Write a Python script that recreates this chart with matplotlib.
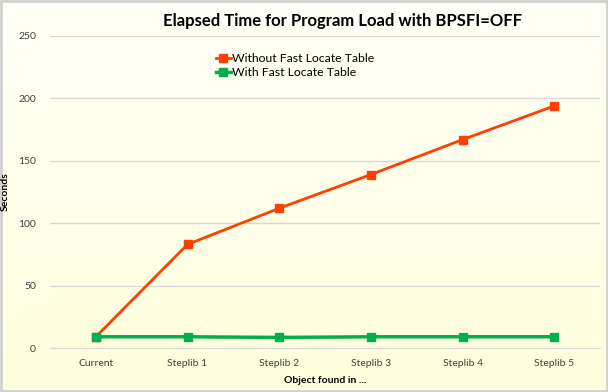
import numpy as np
import matplotlib.pyplot as plt

plt.rcParams['font.family'] = ['Lato', 'DejaVu Sans']

categories = ['Current', 'Steplib 1', 'Steplib 2', 'Steplib 3', 'Steplib 4', 'Steplib 5']
without_flt = [9, 83, 112, 139, 167, 194]
with_flt = [9, 9, 8.5, 9, 9, 9]

fig = plt.figure(figsize=(6.08, 3.92), dpi=100)

# gradient background, near white at top to pale yellow at bottom
bg = fig.add_axes([0, 0, 1, 1], zorder=-1)
grad = np.linspace(0, 1, 256).reshape(-1, 1)
top = np.array([1.0, 1.0, 0.975])
bot = np.array([1.0, 1.0, 0.86])
img = top + (bot - top) * grad[:, :, None]
bg.imshow(img, aspect='auto', extent=[0, 1, 0, 1])
bg.set_xlim(0, 1)
bg.set_ylim(0, 1)
bg.axis('off')
bg.add_patch(plt.Rectangle((0.001, 0.002), 0.997, 0.995, fill=False,
                           edgecolor='#d0d0d0', linewidth=2, transform=bg.transAxes))

ax = fig.add_axes([0.0822, 0.1122, 0.905, 0.796])
ax.patch.set_alpha(0)
x = np.arange(len(categories))
ax.plot(x, without_flt, color='#ff4000', linewidth=2, marker='s', markersize=5.5,
        label='Without Fast Locate Table', zorder=3)
ax.plot(x, with_flt, color='#00b050', linewidth=2.5, marker='s', markersize=5.5,
        label='With Fast Locate Table', zorder=3)

ax.set_xlim(-0.5, len(categories) - 0.5)
ax.set_ylim(0, 250)
ax.set_yticks(range(0, 251, 50))
ax.set_xticks(x)
ax.set_xticklabels(categories)
ax.grid(axis='y', color='#d9d9d9', linewidth=1)
ax.set_axisbelow(True)
for s in ['top', 'right', 'left']:
    ax.spines[s].set_visible(False)
ax.spines['bottom'].set_color('#d9d9d9')
ax.tick_params(length=0, labelsize=7.5, colors='#404040', pad=8)
ax.tick_params(axis='y', pad=10)

fig.text(0.564, 0.946, 'Elapsed Time for Program Load with BPSFI=OFF', fontsize=12,
         fontweight='bold', ha='center', va='center')
ax.set_xlabel('Object found in ...', fontsize=7.5, fontweight='bold', labelpad=6)
ax.set_ylabel('Seconds', fontsize=7.5, fontweight='bold', labelpad=6)

ax.legend(loc='upper left', bbox_to_anchor=(210 / 608, (392 - 47) / 392),
          bbox_transform=fig.transFigure, frameon=False, borderpad=0,
          fontsize=8.8, handlelength=1.2, handletextpad=0.1, labelspacing=0.25)

fig.savefig('out.png', dpi=100)
